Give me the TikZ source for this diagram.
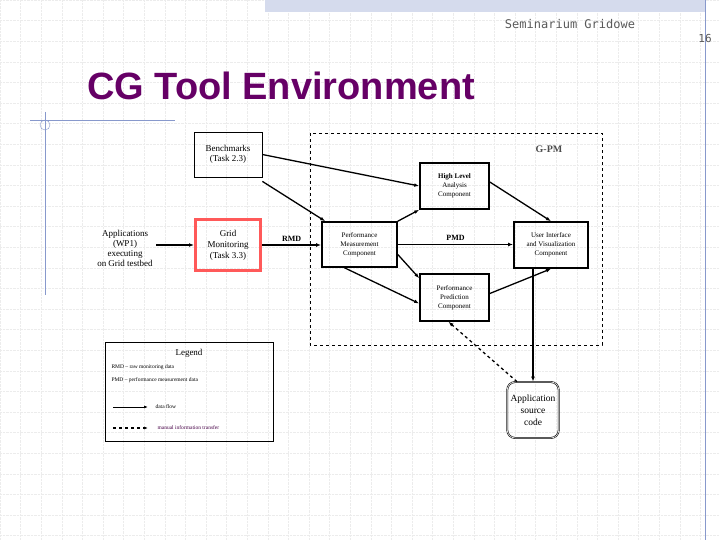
\documentclass[tikz,border=0pt]{standalone}
\usepackage{fontspec}
\setmainfont{Liberation Serif}
\newfontfamily\titlefont{Liberation Sans}
\newfontfamily\monofont{DejaVu Sans Mono}
\usetikzlibrary{arrows.meta}
\definecolor{ttl}{HTML}{660066}
\definecolor{deco}{HTML}{8899CC}
\begin{document}
\begin{tikzpicture}[x=1pt,y=-1pt,
  box/.style={draw,line width=1.6pt,align=center,font=\fontsize{7}{9}\selectfont,inner sep=1pt},
  flow/.style={line width=1.3pt,-{Latex[length=5pt]}},
  man/.style={line width=1.3pt,dashed,-{Latex[length=5pt]}}]
\useasboundingbox (0,0) rectangle (720,540);
\fill[white] (0,0) rectangle (720,540);
\foreach \i in {0,...,35} {\draw[gray!15,line width=0.4pt,densely dotted] (\i*20.6,0) -- (\i*20.6,540);}
\foreach \i in {0,...,26} {\draw[gray!15,line width=0.4pt,densely dotted] (0,\i*20.6) -- (720,\i*20.6);}
\fill[deco!35] (265,0) rectangle (705,12);
\draw[deco] (705,0) -- (705,540);
\draw[deco] (45,112) -- (45,295);
\draw[deco] (30,120) -- (175,120);
\draw[deco] (45,125) circle (5);
\node[font=\monofont\fontsize{12}{14}\selectfont,text=gray!70!black] (sem) at (570,24) {Seminarium Gridowe};
\node[font=\monofont\fontsize{11}{13}\selectfont,text=gray!70!black] (num) at (705,38) {16};
\node[font=\titlefont\bfseries\fontsize{38}{44}\selectfont,text=ttl] (title) at (281,86) {CG Tool Environment};
% G-PM
\draw[dashed,line width=0.8pt] (310,133) rectangle (602,345);
\node[font=\fontsize{10}{12}\selectfont\bfseries,text=black!70] (gpm) at (549,149) {G-PM};
\node[draw,line width=0.8pt,minimum width=68pt,minimum height=45pt,align=center,font=\fontsize{9}{10}\selectfont] (bench) at (228,154.5) {Benchmarks\\(Task 2.3)};
\node[draw=red!65,line width=3pt,minimum width=65pt,minimum height=51pt,align=center,font=\fontsize{9}{11}\selectfont] (grid) at (228,245) {Grid\\Monitoring\\(Task 3.3)};
\node[align=center,font=\fontsize{9}{10}\selectfont] (apps) at (125,248) {Applications\\(WP1)\\executing\\on Grid testbed};
\node[box,minimum width=75pt,minimum height=45pt] (pmc) at (359.5,244.5) {Performance\\Measurement\\Component};
\node[box,minimum width=69pt,minimum height=46pt] (hla) at (454.5,186) {\textbf{High Level}\\Analysis\\Component};
\node[box,minimum width=74pt,minimum height=46pt] (ui) at (551,245) {User Interface\\and Visualization\\Component};
\node[box,minimum width=69pt,minimum height=47pt] (ppc) at (454.5,297.5) {Performance\\Prediction\\Component};
\node[draw,double,rounded corners=8pt,line width=0.6pt,minimum width=50pt,minimum height=56pt,align=center,font=\fontsize{9.5}{12}\selectfont] (src) at (533,410) {Application\\source\\code};
\coordinate (uib) at (533,268.5);
\draw[flow] (apps.east |- grid.west) -- (grid.west);
\draw[flow] (grid.east) -- node[above,font=\fontsize{8}{9}\selectfont\bfseries]{RMD} (grid.east -| pmc.west);
\draw[flow] (pmc.east) -- node[above,font=\fontsize{8}{9}\selectfont\bfseries]{PMD} (pmc.east -| ui.west);
\draw[flow] (bench.east) -- (hla.west);
\draw[flow] ([yshift=-4pt]bench.south east) -- ([xshift=4pt]pmc.north west);
\draw[flow] (pmc.north east) -- (hla.south west);
\draw[flow] ([yshift=-10pt]pmc.east) -- ([yshift=-5pt]ppc.north west);
\draw[flow] ([xshift=-15pt]pmc.south) -- ([yshift=-6pt]ppc.west);
\draw[flow] ([yshift=4pt]hla.east) -- (ui.north);
\draw[flow] ([yshift=4pt]ppc.east) -- (ui.south);
\draw[flow] (uib) -- (src.north);
\draw[man] ([xshift=-16pt]src.north) -- ([xshift=-6pt]ppc.south);
% legend
\node[draw,line width=0.8pt,minimum width=168pt,minimum height=99pt] (leg) at (189,391.5) {};
\node[font=\fontsize{9}{10}\selectfont] (lt) at (189,353) {Legend};
\node[anchor=west,font=\fontsize{5.5}{6}\selectfont] (l1) at (108,367) {RMD -- raw monitoring data};
\node[anchor=west,font=\fontsize{5.5}{6}\selectfont] (l2) at (108,380) {PMD -- performance measurement data};
\coordinate (fa) at (113,407); \coordinate (fb) at (148,407);
\draw[line width=0.8pt,-{Latex[length=4pt]}] (fa) -- (fb);
\node[anchor=west,font=\fontsize{5.5}{6}\selectfont] (l3) at (152,407) {data flow};
\coordinate (ma) at (113,428); \coordinate (mb) at (148,428);
\draw[line width=1.3pt,dashed,-{Latex[length=4pt]}] (ma) -- (mb);
\node[anchor=west,font=\fontsize{5.5}{6}\selectfont,text=ttl!70!black] (l4) at (154,428) {manual information transfer};
\end{tikzpicture}
\end{document}
